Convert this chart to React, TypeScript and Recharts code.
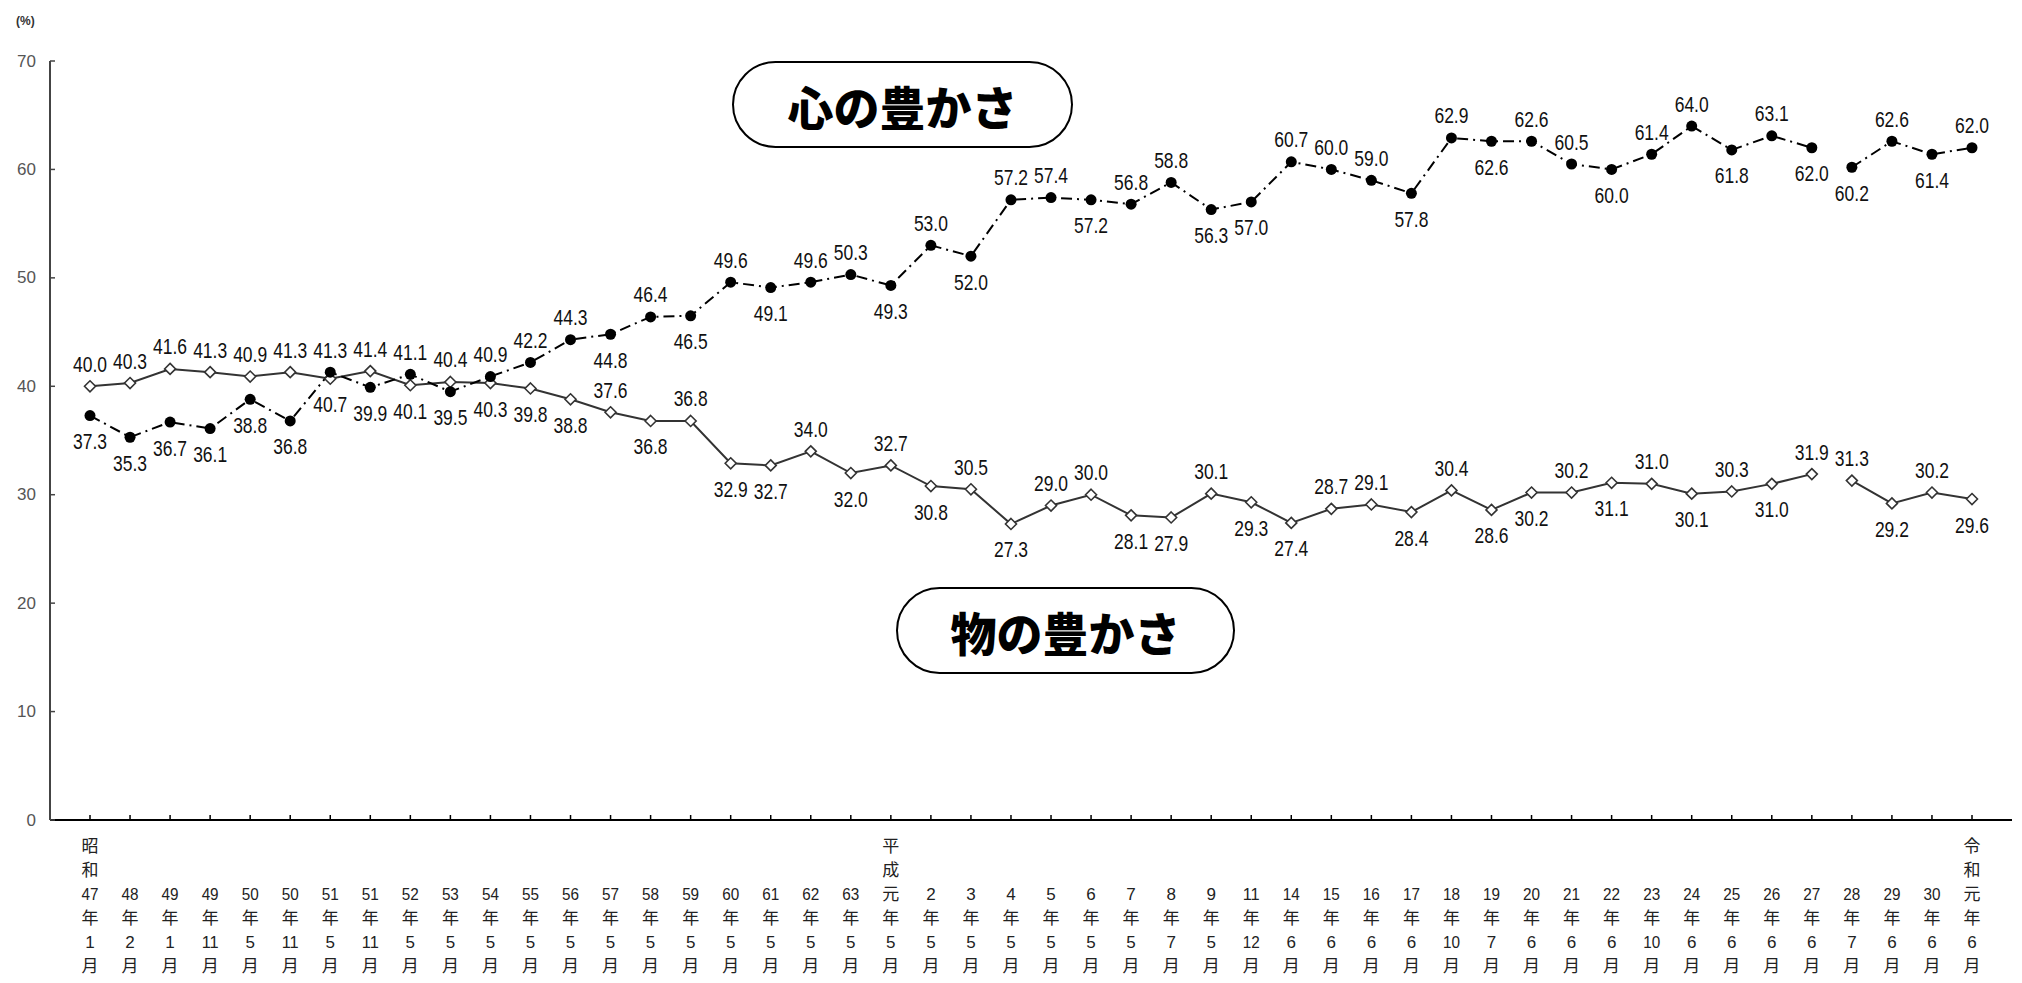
import React from "react";
import { LineChart, Line, XAxis, YAxis, LabelList } from "recharts";

// ---- data ----
const eraLabels = [
  "昭和", "", "", "", "", "", "", "", "", "",
  "", "", "", "", "", "", "", "", "", "",
  "平成", "", "", "", "", "", "", "", "", "",
  "", "", "", "", "", "", "", "", "", "",
  "", "", "", "", "", "", "", "令和",
];
const yearLabels = [
  "47", "48", "49", "49", "50", "50", "51", "51", "52", "53",
  "54", "55", "56", "57", "58", "59", "60", "61", "62", "63",
  "元", "2", "3", "4", "5", "6", "7", "8", "9", "11",
  "14", "15", "16", "17", "18", "19", "20", "21", "22", "23",
  "24", "25", "26", "27", "28", "29", "30", "元",
];
const monthLabels = [
  "1", "2", "1", "11", "5", "11", "5", "11", "5", "5",
  "5", "5", "5", "5", "5", "5", "5", "5", "5", "5",
  "5", "5", "5", "5", "5", "5", "5", "7", "5", "12",
  "6", "6", "6", "6", "10", "7", "6", "6", "6", "10",
  "6", "6", "6", "6", "7", "6", "6", "6",
];
// 心の豊かさ
const kokoroValues = [
  37.3, 35.3, 36.7, 36.1, 38.8, 36.8, 41.3, 39.9, 41.1, 39.5,
  40.9, 42.2, 44.3, 44.8, 46.4, 46.5, 49.6, 49.1, 49.6, 50.3,
  49.3, 53.0, 52.0, 57.2, 57.4, 57.2, 56.8, 58.8, 56.3, 57.0,
  60.7, 60.0, 59.0, 57.8, 62.9, 62.6, 62.6, 60.5, 60.0, 61.4,
  64.0, 61.8, 63.1, 62.0, 60.2, 62.6, 61.4, 62.0,
];
// 物の豊かさ
const monoValues = [
  40.0, 40.3, 41.6, 41.3, 40.9, 41.3, 40.7, 41.4, 40.1, 40.4,
  40.3, 39.8, 38.8, 37.6, 36.8, 36.8, 32.9, 32.7, 34.0, 32.0,
  32.7, 30.8, 30.5, 27.3, 29.0, 30.0, 28.1, 27.9, 30.1, 29.3,
  27.4, 28.7, 29.1, 28.4, 30.4, 28.6, 30.2, 30.2, 31.1, 31.0,
  30.1, 30.3, 31.0, 31.9, 31.3, 29.2, 30.2, 29.6,
];
// label side: a = above, b = below
const kokoroLabelSide = [
  "b", "b", "b", "b", "b", "b", "a", "b", "a", "b",
  "a", "a", "a", "b", "a", "b", "a", "b", "a", "a",
  "b", "a", "b", "a", "a", "b", "a", "a", "b", "b",
  "a", "a", "a", "b", "a", "b", "a", "a", "b", "a",
  "a", "b", "a", "b", "b", "a", "b", "a",
];
const monoLabelSide = [
  "a", "a", "a", "a", "a", "a", "b", "a", "b", "a",
  "b", "b", "b", "a", "b", "a", "b", "b", "a", "b",
  "a", "b", "a", "b", "a", "a", "b", "b", "a", "b",
  "b", "a", "a", "b", "a", "b", "b", "a", "b", "a",
  "b", "a", "b", "a", "a", "b", "a", "b",
];
const breakIndex = 44; // survey method change: lines are not joined across it
const yTicks = [0, 10, 20, 30, 40, 50, 60, 70];

const categories = yearLabels.map((y, i) => `${eraLabels[i]}${y}年${monthLabels[i]}月`);
const rows = categories.map((c, i) => ({
  cat: c,
  idx: i,
  k1: i < breakIndex ? kokoroValues[i] : null,
  k2: i >= breakIndex ? kokoroValues[i] : null,
  m1: i < breakIndex ? monoValues[i] : null,
  m2: i >= breakIndex ? monoValues[i] : null,
}));

const NUM_FONT = "'Liberation Sans', 'DejaVu Sans', sans-serif";
const JP_FONT = "'Liberation Sans', 'Noto Sans CJK JP', sans-serif";

const XTick = (props: any) => {
  const { x, y, payload } = props;
  const i = categories.indexOf(payload.value);
  if (i < 0) return null;
  const era = eraLabels[i];
  const lines = [era ? era[0] : "", era ? era[1] : "", yearLabels[i], "年", monthLabels[i], "月"];
  return (
    <g>
      <line x1={x} x2={x} y1={y} y2={y - 5} stroke="#000" strokeWidth={1.5} />
      {lines.map((t, r) => {
        if (!t) return null;
        const isNum = r === 2 || r === 4;
        const narrow = isNum && t.length >= 2;
        return (
          <text
            key={r}
            x={x}
            y={y + 26 + r * 24}
            textAnchor="middle"
            dominantBaseline="central"
            fontFamily={JP_FONT}
            fontSize={17}
            fill="#222"
            textLength={narrow ? 17 : undefined}
            lengthAdjust={narrow ? "spacingAndGlyphs" : undefined}
          >
            {t}
          </text>
        );
      })}
    </g>
  );
};

const YTick = (props: any) => {
  const { x, y, payload } = props;
  return (
    <g>
      <line x1={x} x2={x + 5} y1={y} y2={y} stroke="#444" strokeWidth={1.5} />
      <text
        x={x - 14}
        y={y}
        textAnchor="end"
        dominantBaseline="central"
        fontFamily={NUM_FONT}
        fontSize={17}
        fill="#555"
      >
        {payload.value}
      </text>
    </g>
  );
};

const Diamond = (p: any) => {
  const { cx, cy, value } = p;
  if (value == null || cx == null || cy == null || isNaN(cy)) return <g />;
  const s = 5.5;
  return (
    <polygon
      points={`${cx},${cy - s} ${cx + s},${cy} ${cx},${cy + s} ${cx - s},${cy}`}
      fill="#fff"
      stroke="#333"
      strokeWidth={1.6}
    />
  );
};

const Dot = (p: any) => {
  const { cx, cy, value } = p;
  if (value == null || cx == null || cy == null || isNaN(cy)) return <g />;
  return <circle cx={cx} cy={cy} r={5.5} fill="#000" />;
};

const makeLabel = (vals: number[], sides: string[], first: boolean) => (p: any) => {
  const { x, y, value } = p;
  const i = value as number;
  if (i == null || vals[i] == null) return null;
  if (first ? i >= breakIndex : i < breakIndex) return null;
  if (x == null || y == null || isNaN(y)) return null;
  const above = sides[i] === "a";
  return (
    <text
      x={x}
      y={above ? y - 22 : y + 26}
      textAnchor="middle"
      dominantBaseline="central"
      fontFamily={NUM_FONT}
      fontSize={22}
      fill="#111"
      textLength={34}
      lengthAdjust="spacingAndGlyphs"
    >
      {vals[i].toFixed(1)}
    </text>
  );
};

const kokoroLabelA = makeLabel(kokoroValues, kokoroLabelSide, true);
const kokoroLabelB = makeLabel(kokoroValues, kokoroLabelSide, false);
const monoLabelA = makeLabel(monoValues, monoLabelSide, true);
const monoLabelB = makeLabel(monoValues, monoLabelSide, false);

const boxStyle: React.CSSProperties = {
  position: "absolute",
  border: "2px solid #000",
  borderRadius: 44,
  background: "#fff",
  display: "flex",
  alignItems: "center",
  justifyContent: "center",
  fontFamily: "'Noto Sans CJK JP', sans-serif",
  fontWeight: 900,
  fontSize: 46,
  color: "#000",
  boxSizing: "border-box",
};

export default function App() {
  return (
    <div style={{ position: "relative", width: 2006, height: 975, background: "#fff" }}>
      <LineChart
        width={2006}
        height={975}
        data={rows}
        margin={{ top: 53, right: 2, left: 0, bottom: 0 }}
      >
        <XAxis
          dataKey="cat"
          scale="point"
          padding={{ left: 40, right: 40 }}
          interval={0}
          height={163}
          tickSize={0}
          tickMargin={0}
          tick={<XTick />}
          axisLine={{ stroke: "#000", strokeWidth: 2 }}
        />
        <YAxis
          width={42}
          domain={[0, 70]}
          ticks={yTicks}
          interval={0}
          tickSize={0}
          tickMargin={0}
          tick={<YTick />}
          axisLine={{ stroke: "#444", strokeWidth: 2 }}
        />
        <Line
          dataKey="m1"
          stroke="#333"
          strokeWidth={2}
          dot={<Diamond />}
          isAnimationActive={false}
          connectNulls={false}
        >
          <LabelList dataKey="idx" content={monoLabelA} />
        </Line>
        <Line
          dataKey="m2"
          stroke="#333"
          strokeWidth={2}
          dot={<Diamond />}
          isAnimationActive={false}
          connectNulls={false}
        >
          <LabelList dataKey="idx" content={monoLabelB} />
        </Line>
        <Line
          dataKey="k1"
          stroke="#000"
          strokeWidth={2}
          strokeDasharray="11 5 2 5"
          dot={<Dot />}
          isAnimationActive={false}
          connectNulls={false}
        >
          <LabelList dataKey="idx" content={kokoroLabelA} />
        </Line>
        <Line
          dataKey="k2"
          stroke="#000"
          strokeWidth={2}
          strokeDasharray="11 5 2 5"
          dot={<Dot />}
          isAnimationActive={false}
          connectNulls={false}
        >
          <LabelList dataKey="idx" content={kokoroLabelB} />
        </Line>
      </LineChart>
      <div
        style={{
          position: "absolute",
          left: 8,
          top: 6,
          fontFamily: NUM_FONT,
          fontSize: 12,
          fontWeight: 700,
          color: "#333",
        }}
      >
        (%)
      </div>
      <div style={{ ...boxStyle, left: 724, top: 53, width: 341, height: 87 }}>心の豊かさ</div>
      <div style={{ ...boxStyle, left: 888, top: 579, width: 339, height: 87 }}>物の豊かさ</div>
    </div>
  );
}
